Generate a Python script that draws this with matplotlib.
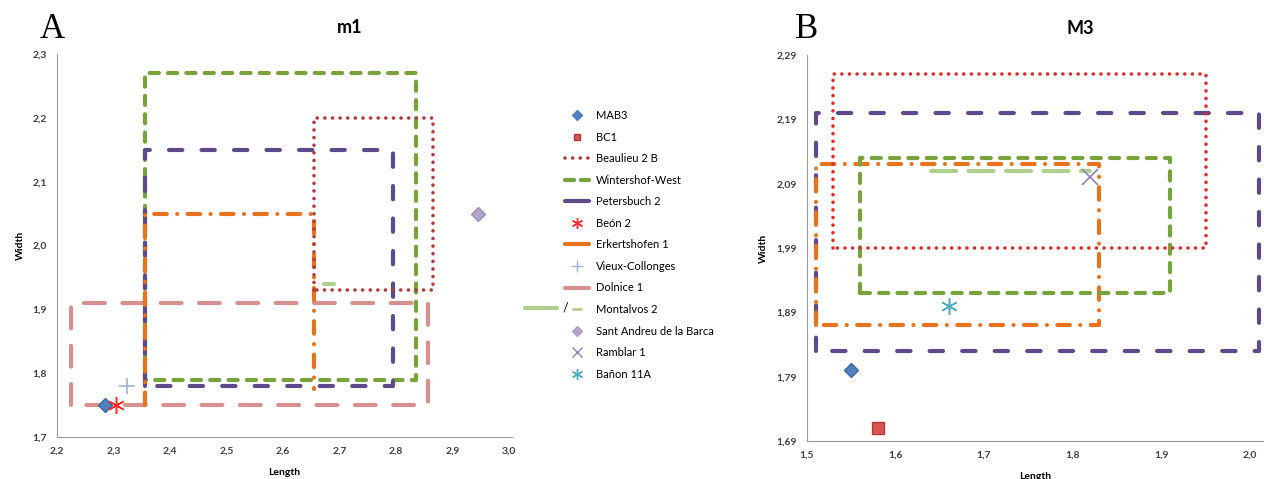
import matplotlib
matplotlib.use("Agg")
import matplotlib.pyplot as plt
from matplotlib.lines import Line2D

plt.rcParams['font.family'] = ['Lato', 'DejaVu Sans']

# ---- panel A (m1) data ----
a_xticks = [2.2, 2.3, 2.4, 2.5, 2.6, 2.7, 2.8, 2.9, 3.0]
a_xlabels = ["2,2", "2,3", "2,4", "2,5", "2,6", "2,7", "2,8", "2,9", "3,0"]
a_yticks = [1.7, 1.8, 1.9, 2.0, 2.1, 2.2, 2.3]
a_ylabels = ["1,7", "1,8", "1,9", "2,0", "2,1", "2,2", "2,3"]

# ranges: (xmin, xmax, ymin, ymax)
a_beaulieu = (2.655, 2.865, 1.93, 2.20)
a_wintershof = (2.355, 2.835, 1.79, 2.27)
a_petersbuch = (2.355, 2.795, 1.78, 2.15)
a_dolnice = (2.224, 2.857, 1.75, 1.91)
# Erkertshofen drawn open at the bottom
a_erkert_x = [2.355, 2.355, 2.655, 2.655]
a_erkert_y = [1.75, 2.05, 2.05, 1.775]
a_montalvos_x = [2.672, 2.69]
a_montalvos_y = [1.94, 1.94]
a_mab3 = (2.285, 1.75)
a_beon = (2.305, 1.75)
a_vieux = (2.324, 1.78)
a_santandreu = (2.945, 2.05)

# ---- panel B (M3) data ----
b_xticks = [1.5, 1.6, 1.7, 1.8, 1.9, 2.0]
b_xlabels = ["1,5", "1,6", "1,7", "1,8", "1,9", "2,0"]
b_yticks = [1.69, 1.79, 1.89, 1.99, 2.09, 2.19, 2.29]
b_ylabels = ["1,69", "1,79", "1,89", "1,99", "2,09", "2,19", "2,29"]

b_beaulieu = (1.53, 1.95, 1.99, 2.26)
b_petersbuch = (1.51, 2.01, 1.83, 2.20)
b_wintershof = (1.56, 1.91, 1.92, 2.13)
b_erkert = (1.51, 1.83, 1.87, 2.12)
b_montalvos_x = [1.64, 1.82]
b_montalvos_y = [2.11, 2.11]
b_ramblar = (1.82, 2.10)
b_banon = (1.66, 1.90)
b_mab3 = (1.55, 1.80)
b_bc1 = (1.58, 1.71)

# colours
c_green = "#78a23c"
c_purple = "#5e4a8a"
c_red_a = "#b03a3a"
c_red_b = "#dd2a2a"
c_orange = "#e8731e"
c_pink = "#d79090"
c_lgreen = "#b0d08e"

st_wint = dict(color=c_green, lw=3, dashes=(2.2, 2.2), dash_capstyle='round')
st_pet = dict(color=c_purple, lw=3, dashes=(3.2, 4.6), dash_capstyle='round')
st_dol = dict(color=c_pink, lw=3, dashes=(5, 4.2), dash_capstyle='round')
st_erk = dict(color=c_orange, lw=3, dashes=(3, 2.5, 0.01, 2.5), dash_capstyle='round')
st_mont = dict(color=c_lgreen, lw=3, dashes=(6, 3), dash_capstyle='round')


def box(ax, r, **kw):
    x0, x1, y0, y1 = r
    ax.plot([x0, x0, x1, x1, x0], [y0, y1, y1, y0, y0], **kw)


def style_axes(ax, xt, xl, yt, yl):
    for s in ['top', 'right']:
        ax.spines[s].set_visible(False)
    for s in ['left', 'bottom']:
        ax.spines[s].set_color('#9a9a9a')
    ax.set_xticks(xt)
    ax.set_xticklabels(xl)
    ax.set_yticks(yt)
    ax.set_yticklabels(yl)
    ax.tick_params(length=0, labelsize=7.5, labelcolor='#404040', pad=7)
    for t in ax.get_xticklabels() + ax.get_yticklabels():
        t.set_fontweight('bold')
    ax.set_xlabel("Length", fontsize=7.5, fontweight='bold', labelpad=9)
    ax.set_ylabel("Width", fontsize=7.5, fontweight='bold', labelpad=6)


fig = plt.figure(figsize=(12.64, 4.79), dpi=100)

# ---------- panel A ----------
axA = fig.add_axes([57 / 1264, 1 - 437 / 479, (512 - 57) / 1264, (437 - 54) / 479])
axA.set_xlim(2.2, 2.2 + 0.8 * (512 - 57) / (509 - 57))
axA.set_ylim(1.7, 2.3)
box(axA, a_dolnice, **st_dol)
box(axA, a_wintershof, **st_wint)
box(axA, a_petersbuch, **st_pet)
axA.plot(a_erkert_x, a_erkert_y, **st_erk)
box(axA, a_beaulieu, color=c_red_a, lw=2.6, dashes=(0.01, 2.1), dash_capstyle='round')
axA.plot(a_montalvos_x, a_montalvos_y, **st_mont)
axA.plot(*a_mab3, marker='D', ms=7, color='#4f81bd', mec='#3a6aa5', ls='none')
axA.plot(*a_beon, marker=(6, 2, 0), ms=12, color='#ff2a2a', mew=1.1, ls='none')
axA.plot(*a_vieux, marker='+', ms=11, color='#9bb5dc', mew=1.2, ls='none')
axA.plot(*a_santandreu, marker='D', ms=7, color='#b3a2c7', mec='#a090b8', ls='none')
style_axes(axA, a_xticks, a_xlabels, a_yticks, a_ylabels)
axA.set_title("m1", fontsize=13, fontweight='bold', pad=15, x=0.644)
fig.text(40 / 1264, 1 - 38 / 479, "A", family='Liberation Serif', fontsize=25)

# ---------- panel B ----------
axB = fig.add_axes([806.7 / 1264, 1 - 441 / 479, (1263 - 806.7) / 1264, (441 - 55) / 479])
axB.set_xlim(1.5, 1.5 + 0.5 * (1263 - 806.7) / (1250 - 806.7))
axB.set_ylim(1.69, 2.29)
box(axB, b_petersbuch, **st_pet)
box(axB, b_erkert, **st_erk)
box(axB, b_wintershof, **st_wint)
box(axB, b_beaulieu, color=c_red_b, lw=2.6, dashes=(0.01, 2.1), dash_capstyle='round')
axB.plot(b_montalvos_x, b_montalvos_y, **st_mont)
axB.plot(*b_ramblar, marker='x', ms=11, color='#8f80b8', mew=1.2, ls='none')
axB.plot(*b_banon, marker=(6, 2, 0), ms=12, color='#4bacc6', mew=1.1, ls='none')
axB.plot(*b_mab3, marker='D', ms=7, color='#4f81bd', mec='#3a6aa5', ls='none')
axB.plot(*b_bc1, marker='s', ms=8, color='#d9534f', mec='#b03a3a', ls='none')
style_axes(axB, b_xticks, b_xlabels, b_yticks, b_ylabels)
axB.set_title("M3", fontsize=13, fontweight='bold', pad=15, x=0.60)
fig.text(795 / 1264, 1 - 38 / 479, "B", family='Liberation Serif', fontsize=25)

# ---------- legend ----------
handles = [
    Line2D([], [], marker='D', ms=5, color='#4f81bd', ls='none'),
    Line2D([], [], marker='s', ms=5, color='#d9534f', mec='#b03a3a', ls='none'),
    Line2D([], [], color=c_red_a, lw=2.6, dashes=(0.01, 2.1), dash_capstyle='round'),
    Line2D([], [], color=c_green, lw=3, dashes=(2.2, 1.6), dash_capstyle='round'),
    Line2D([], [], color=c_purple, lw=3, solid_capstyle='round'),
    Line2D([], [], marker=(6, 2, 0), ms=8, color='#ff2a2a', mew=1, ls='none'),
    Line2D([], [], color=c_orange, lw=3, solid_capstyle='round'),
    Line2D([], [], marker='+', ms=8, color='#9bb5dc', mew=1, ls='none'),
    Line2D([], [], color=c_pink, lw=3, solid_capstyle='round'),
    Line2D([], [], marker='_', ms=7, color=c_lgreen, mew=2, ls='none'),
    Line2D([], [], marker='D', ms=5, color='#b3a2c7', ls='none'),
    Line2D([], [], marker='x', ms=7, color='#8f80b8', mew=1, ls='none'),
    Line2D([], [], marker=(6, 2, 0), ms=8, color='#4bacc6', mew=1, ls='none'),
]
labels = ["MAB3", "BC1", "Beaulieu 2 B", "Wintershof-West", "Petersbuch 2", "Beón 2",
          "Erkertshofen 1", "Vieux-Collonges", "Dolnice 1", "Montalvos 2",
          "Sant Andreu de la Barca", "Ramblar 1", "Bañon 11A"]
fig.legend(handles, labels, loc='upper left', bbox_to_anchor=(555 / 1264, 1 - 100 / 479),
           frameon=False, fontsize=8, labelspacing=0.95, handlelength=2.2, handletextpad=0.6)
# extra Montalvos 2 line ("___ / -")
fig.add_artist(Line2D([525 / 1264, 557 / 1264], [1 - 308 / 479, 1 - 308 / 479],
                      color=c_lgreen, lw=3, solid_capstyle='round'))
fig.text(565 / 1264, 1 - 308 / 479, "/", fontsize=9, va='center', ha='center')

fig.savefig("out.png", dpi=100)
